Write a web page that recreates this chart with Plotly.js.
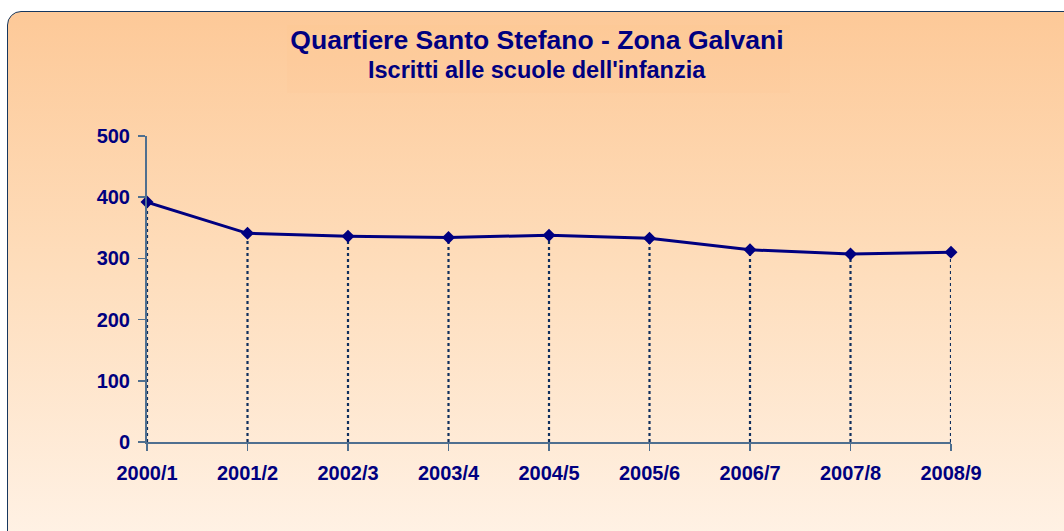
<!DOCTYPE html>
<html>
<head>
<meta charset="utf-8">
<script src="https://cdn.plot.ly/plotly-3.0.1.min.js"></script>
<style>
  html, body { margin: 0; padding: 0; width: 1064px; height: 531px; overflow: hidden; background: #ffffff; }
  #frame {
    position: absolute; left: 7px; top: 11px; width: 1100px; height: 560px;
    border: 1.5px solid #17375E; border-radius: 14px;
    background: linear-gradient(to bottom, #FDC998 0%, #FEDDBB 45%, #FFF4EA 100%);
  }
  #chart { position: absolute; left: 0; top: 0; width: 1064px; height: 531px; }
</style>
</head>
<body>
<div id="frame"></div>
<div id="chart"></div>
<script>
const categories = ["2000/1", "2001/2", "2002/3", "2003/4", "2004/5", "2005/6", "2006/7", "2007/8", "2008/9"];
const iscritti = [392, 341, 336, 334, 338, 333, 314, 307, 310];
const yTicks = [0, 100, 200, 300, 400, 500];
const titleText = "Quartiere Santo Stefano - Zona Galvani";
const subtitleText = "Iscritti alle scuole dell'infanzia";

const navy = "#000080";
const axisColor = "#4F6F8F";

// drop lines from each point down to the axis
const dropX = [], dropY = [];
categories.forEach((c, i) => { dropX.push(c, c, null); dropY.push(0, iscritti[i], null); });

const traces = [
  {
    x: dropX, y: dropY, type: "scatter", mode: "lines",
    line: { color: "#0F2F5E", width: 2.2, dash: "3px,3px" },
    hoverinfo: "skip", showlegend: false, connectgaps: false
  },
  {
    x: categories, y: iscritti, type: "scatter", mode: "lines+markers",
    line: { color: navy, width: 3 },
    marker: { symbol: "diamond", size: 10, color: navy },
    cliponaxis: false, showlegend: false
  }
];

const tickFont = { family: "Liberation Sans, Arial, sans-serif", size: 20, color: navy, weight: "bold" };

const layout = {
  width: 1064, height: 531,
  paper_bgcolor: "rgba(0,0,0,0)", plot_bgcolor: "rgba(0,0,0,0)",
  margin: { l: 147, r: 113, t: 136, b: 89, pad: 0 },
  title: {
    text: "<b>" + titleText + "</b>",
    font: { family: "Liberation Sans, Arial, sans-serif", size: 26.5, color: navy },
    x: 537 / 1064, xref: "container", xanchor: "center",
    y: 1 - 40 / 531, yref: "container", yanchor: "middle"
  },
  annotations: [{
    text: "<b>" + subtitleText + "</b>",
    font: { family: "Liberation Sans, Arial, sans-serif", size: 23.5, color: navy },
    xref: "paper", yref: "paper",
    x: (537 - 147) / (1064 - 147 - 113), y: 1 + (136 - 70) / (531 - 136 - 89),
    xanchor: "center", yanchor: "middle", showarrow: false
  }],
  shapes: [{
    type: "rect", xref: "paper", yref: "paper", layer: "below",
    x0: (287 - 147) / 804, x1: (790 - 147) / 804,
    y0: 1 + (136 - 93) / 306, y1: 1 + (136 - 25) / 306,
    line: { width: 0 }, fillcolor: "rgba(250,190,130,0.08)"
  }],
  xaxis: {
    type: "category", range: [0, 8], categoryorder: "array", categoryarray: categories,
    showline: true, linecolor: axisColor, linewidth: 2,
    ticks: "outside", ticklen: 7, tickwidth: 1.5, tickcolor: axisColor,
    showgrid: false, zeroline: false, tickfont: tickFont, ticklabelstandoff: 5,
    fixedrange: true
  },
  yaxis: {
    range: [0, 500], tickvals: yTicks, ticktext: yTicks.map(String),
    showline: true, linecolor: axisColor, linewidth: 2,
    ticks: "outside", ticklen: 7, tickwidth: 1.5, tickcolor: axisColor,
    showgrid: false, zeroline: false, tickfont: tickFont, ticklabelstandoff: 4,
    fixedrange: true
  },
  hovermode: false
};

Plotly.newPlot("chart", traces, layout, { displayModeBar: false, staticPlot: true });
</script>
</body>
</html>
